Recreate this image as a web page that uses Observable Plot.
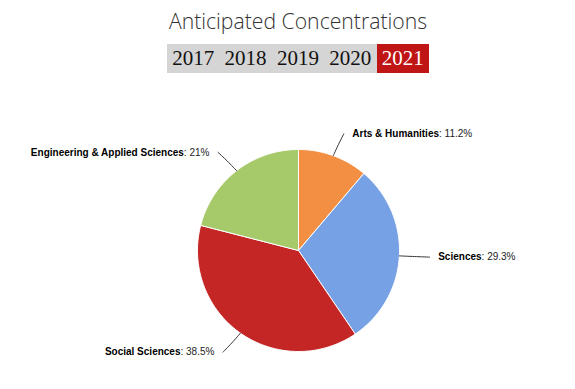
<!DOCTYPE html>
<html>
<head>
<meta charset="utf-8">
<script src="https://cdn.jsdelivr.net/npm/d3@7"></script>
<script src="https://cdn.jsdelivr.net/npm/@observablehq/plot@0.6"></script>
<style>
  html, body { margin: 0; padding: 0; background: #fff; }
  #wrap { width: 575px; position: relative; }
  #header { position: relative; height: 80px; }
  #title { position: absolute; left: 0; width: 596px; top: 10px; text-align: center;
           font-family: "Open Sans", sans-serif; font-weight: 300; font-size: 21.2px; line-height: 22px; color: #333; }
  #years { position: absolute; left: 167px; top: 44px; height: 29px; display: flex; background: #d5d5d5; }
  #years span { display: block; width: 52.4px; height: 29px; line-height: 29px; text-align: center;
                font-family: "Liberation Serif", serif; font-size: 21px; color: #111; }
  #years span.sel { background: #bf1515; color: #fff; }
  svg { display: block; }
</style>
</head>
<body>
<div id="wrap">
  <div id="header">
    <div id="title">Anticipated Concentrations</div>
    <div id="years"></div>
  </div>
  <div id="chart"></div>
</div>
<script>
const years = ["2017", "2018", "2019", "2020", "2021"];
const selectedYear = "2021";
const names = ["Arts & Humanities", "Sciences", "Social Sciences", "Engineering & Applied Sciences"];
const shares = [11.2, 29.3, 38.5, 21];
const valueLabels = ["11.2%", "29.3%", "38.5%", "21%"];
const colors = ["#f28f43", "#77a1e5", "#c42525", "#a6c96a"];

// year buttons
const yb = document.getElementById("years");
years.forEach(y => {
  const s = document.createElement("span");
  s.textContent = y;
  if (y === selectedYear) s.className = "sel";
  yb.appendChild(s);
});

const W = 575, H = 309;
const cx = 298, cy = 170, R = 101;

const arcs = d3.pie().sort(null).value(d => d)(shares);

// slice outlines
const slicePts = [];
arcs.forEach((a, i) => {
  slicePts.push({name: names[i], x: 0, y: 0});
  const n = Math.max(2, Math.ceil((a.endAngle - a.startAngle) / (Math.PI / 180)));
  for (let k = 0; k <= n; k++) {
    const t = a.startAngle + (a.endAngle - a.startAngle) * k / n;
    slicePts.push({name: names[i], x: Math.sin(t), y: Math.cos(t)});
  }
  slicePts.push({name: names[i], x: 0, y: 0});
});

// connectors and labels
const connPts = [];
const labels = [];
arcs.forEach((a, i) => {
  const m = (a.startAngle + a.endAngle) / 2;
  const s = Math.sin(m), c = Math.cos(m);
  const side = s >= 0 ? 1 : -1;
  const lx = 1.30 * s, ly = 1.23 * c;
  connPts.push({name: names[i], x: s, y: c});
  connPts.push({name: names[i], x: 1.15 * s, y: 1.12 * c});
  connPts.push({name: names[i], x: lx, y: ly});
  labels.push({name: names[i], value: valueLabels[i], x: lx + side * 0.085, y: ly, anchor: side > 0 ? "start" : "end"});
});

function labelMark(anchor) {
  const sub = labels.filter(d => d.anchor === anchor);
  return Plot.text(sub, {
    x: "x", y: "y", text: "name", textAnchor: anchor,
    fontSize: 10, fontFamily: "Liberation Sans, Arial, sans-serif", fill: "#000",
    render: (index, scales, values, dims, ctx, next) => {
      const g = next(index, scales, values, dims, ctx);
      d3.select(g).selectAll("text").each(function(_, j) {
        const d = sub[index[j]];
        const t = d3.select(this);
        t.text(null);
        t.append("tspan").attr("font-weight", "bold").text(d.name);
        t.append("tspan").attr("fill", "#222").text(": " + d.value);
      });
      return g;
    }
  });
}

const chart = Plot.plot({
  width: W,
  height: H,
  margin: 0,
  x: {domain: [-cx / R, (W - cx) / R], range: [0, W], axis: null},
  y: {domain: [-(H - cy) / R, cy / R], range: [H, 0], axis: null},
  color: {domain: names, range: colors},
  marks: [
    Plot.line(slicePts, {x: "x", y: "y", z: "name", fill: "name", stroke: "#fff", strokeWidth: 1, strokeLinejoin: "round"}),
    Plot.line(connPts, {x: "x", y: "y", z: "name", stroke: "#333", strokeWidth: 1, curve: "catmull-rom"}),
    labelMark("start"),
    labelMark("end")
  ]
});
document.getElementById("chart").appendChild(chart);
</script>
</body>
</html>
